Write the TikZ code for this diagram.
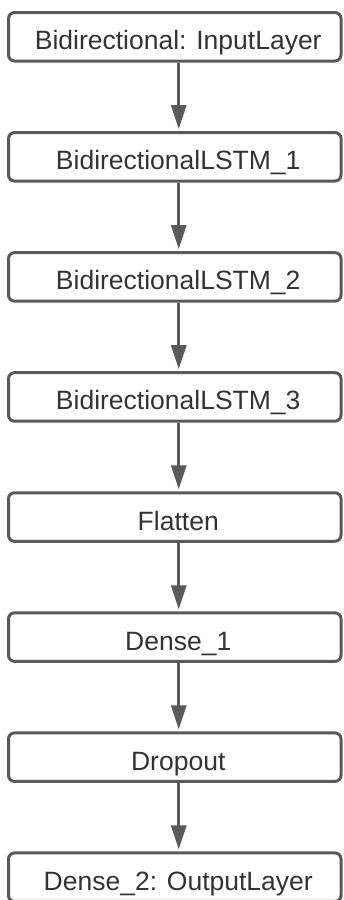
\documentclass[tikz,border=0pt]{standalone}
\usepackage{fontspec}
\setmainfont{Liberation Sans}
\usetikzlibrary{arrows.meta}
\definecolor{linegray}{HTML}{5A5A5A}
\definecolor{textgray}{HTML}{333333}
\begin{document}
\begin{tikzpicture}[x=1pt,y=-1pt,
  layerbox/.style={draw=linegray, fill=white, line width=3pt, rounded corners=6pt,
    minimum width=332.5pt, minimum height=48.5pt, inner sep=0pt,
    text height=26pt, text depth=0pt,
    execute at begin node={\hspace*{7pt}},
    font=\fontsize{26.5}{30}\selectfont, text=textgray},
  flow/.style={draw=linegray, line width=3pt, shorten >=2pt,
    -{Triangle[length=24pt,width=15pt]}}]
  \fill[white] (0,0) rectangle (343,900);
  \useasboundingbox (0,0) rectangle (343,900);

  % layer stack, one box every 120pt
  \node[layerbox] (inp)  at (174.75, 36.75)  {Bidirectional: InputLayer};
  \node[layerbox] (l1)   at (174.75, 156.8)  {BidirectionalLSTM\_1};
  \node[layerbox] (l2)   at (174.75, 276.9)  {BidirectionalLSTM\_2};
  \node[layerbox] (l3)   at (174.75, 396.95) {BidirectionalLSTM\_3};
  \node[layerbox] (flat) at (174.75, 517.0)  {Flatten};
  \node[layerbox] (d1)   at (174.75, 637.1)  {Dense\_1};
  \node[layerbox] (drop) at (174.75, 757.15) {Dropout};
  \node[layerbox] (d2)   at (174.75, 877.2)  {Dense\_2: OutputLayer};

  % connectors between consecutive layers
  \foreach \a/\b in {inp/l1, l1/l2, l2/l3, l3/flat, flat/d1, d1/drop, drop/d2}
    \draw[flow] ([xshift=4pt]\a.south) -- ([xshift=4pt]\b.north);
\end{tikzpicture}
\end{document}
